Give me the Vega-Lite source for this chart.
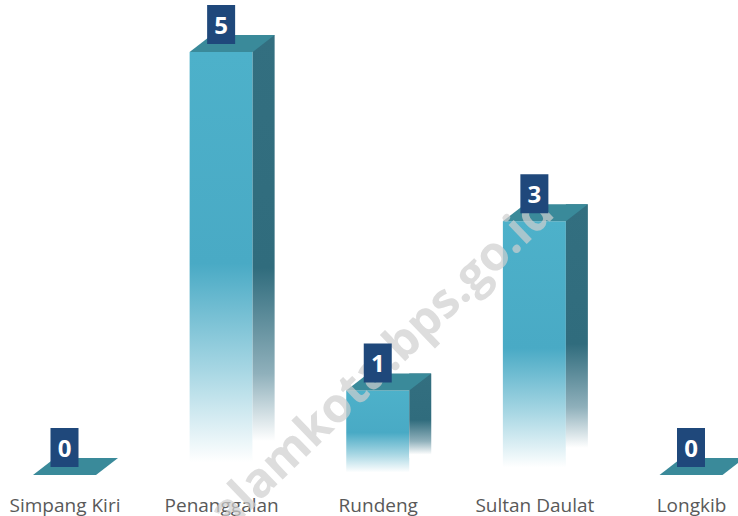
{
  "$schema": "https://vega.github.io/schema/vega-lite/v6.json",
  "width": 738,
  "height": 423,
  "autosize": {"type": "none"},
  "padding": {"left": 0, "top": 52, "right": 0, "bottom": 41},
  "background": "#ffffff",
  "config": {"view": {"stroke": null}},
  "datasets": {
    "kec": [
      {"kecamatan": "Simpang Kiri", "jumlah": 0},
      {"kecamatan": "Penanggalan", "jumlah": 5},
      {"kecamatan": "Rundeng", "jumlah": 1},
      {"kecamatan": "Sultan Daulat", "jumlah": 3},
      {"kecamatan": "Longkib", "jumlah": 0}
    ],
    "wm": [{"teks": "subulussalamkota.bps.go.id"}]
  },
  "layer": [
    {
      "data": {"name": "kec"},
      "transform": [{"filter": "datum.jumlah > 0"}],
      "mark": {
        "type": "bar",
        "width": 63,
        "strokeWidth": 0,
        "fill": {
          "gradient": "linear",
          "x1": 0, "y1": 0, "x2": 0, "y2": 1,
          "stops": [
            {"offset": 0, "color": "#4db1ca"},
            {"offset": 0.5, "color": "#49aac5"},
            {"offset": 0.75, "color": "#a6d6e3"},
            {"offset": 0.97, "color": "#ffffff"}
          ]
        }
      },
      "encoding": {
        "x": {
          "field": "kecamatan",
          "type": "nominal",
          "scale": {"type": "point", "domain": ["Simpang Kiri", "Penanggalan", "Rundeng", "Sultan Daulat", "Longkib"], "range": [64.5, 691], "padding": 0},
          "axis": {
            "title": null,
            "labelAngle": 0,
            "domain": false,
            "ticks": false,
            "grid": false,
            "labelFont": "Open Sans",
            "labelFontSize": 19,
            "labelColor": "#595959",
            "labelPadding": 21
          }
        },
        "y": {"field": "jumlah", "type": "quantitative", "scale": {"domain": [0, 5]}, "axis": null}
      }
    },
    {
      "data": {"name": "kec"},
      "transform": [{"filter": "datum.jumlah > 0"}],
      "mark": {
        "type": "bar",
        "width": 22,
        "xOffset": 42.5,
        "yOffset": -17,
        "strokeWidth": 0,
        "fill": {
          "gradient": "linear",
          "x1": 0, "y1": 0, "x2": 0, "y2": 1,
          "stops": [
            {"offset": 0, "color": "#336f80"},
            {"offset": 0.55, "color": "#306c7d"},
            {"offset": 0.8, "color": "#8fb0bb"},
            {"offset": 0.96, "color": "#ffffff"}
          ]
        }
      },
      "encoding": {
        "x": {"field": "kecamatan", "type": "nominal"},
        "y": {"field": "jumlah", "type": "quantitative"}
      }
    },
    {
      "data": {"name": "kec"},
      "mark": {
        "type": "point",
        "shape": "M-31.5,0L31.5,0L53.5,-17L-9.5,-17Z",
        "size": 4,
        "filled": true,
        "opacity": 1,
        "strokeWidth": 0,
        "fill": "#3a8a9a"
      },
      "encoding": {
        "x": {"field": "kecamatan", "type": "nominal"},
        "y": {"field": "jumlah", "type": "quantitative"}
      }
    },
    {
      "data": {"name": "wm"},
      "mark": {
        "type": "text",
        "align": "right",
        "baseline": "middle",
        "angle": -44,
        "dx": 17,
        "font": "Open Sans",
        "fontWeight": "bold",
        "fontSize": 48,
        "fill": "#cfcfcf",
        "opacity": 0.7
      },
      "encoding": {
        "x": {"datum": "Sultan Daulat", "type": "nominal"},
        "y": {"datum": 3.05, "type": "quantitative"},
        "text": {"field": "teks", "type": "nominal"}
      }
    },
    {
      "data": {"name": "kec"},
      "mark": {
        "type": "point",
        "shape": "M-14,-47L14,-47L14,-8L-14,-8Z",
        "size": 4,
        "filled": true,
        "opacity": 1,
        "strokeWidth": 0,
        "fill": "#1f487b"
      },
      "encoding": {
        "x": {"field": "kecamatan", "type": "nominal"},
        "y": {"field": "jumlah", "type": "quantitative"}
      }
    },
    {
      "data": {"name": "kec"},
      "mark": {
        "type": "text",
        "dy": -25,
        "baseline": "middle",
        "align": "center",
        "font": "Open Sans",
        "fontWeight": "bold",
        "fontSize": 24,
        "fill": "#ffffff"
      },
      "encoding": {
        "x": {"field": "kecamatan", "type": "nominal"},
        "y": {"field": "jumlah", "type": "quantitative"},
        "text": {"field": "jumlah", "type": "quantitative"}
      }
    }
  ]
}
